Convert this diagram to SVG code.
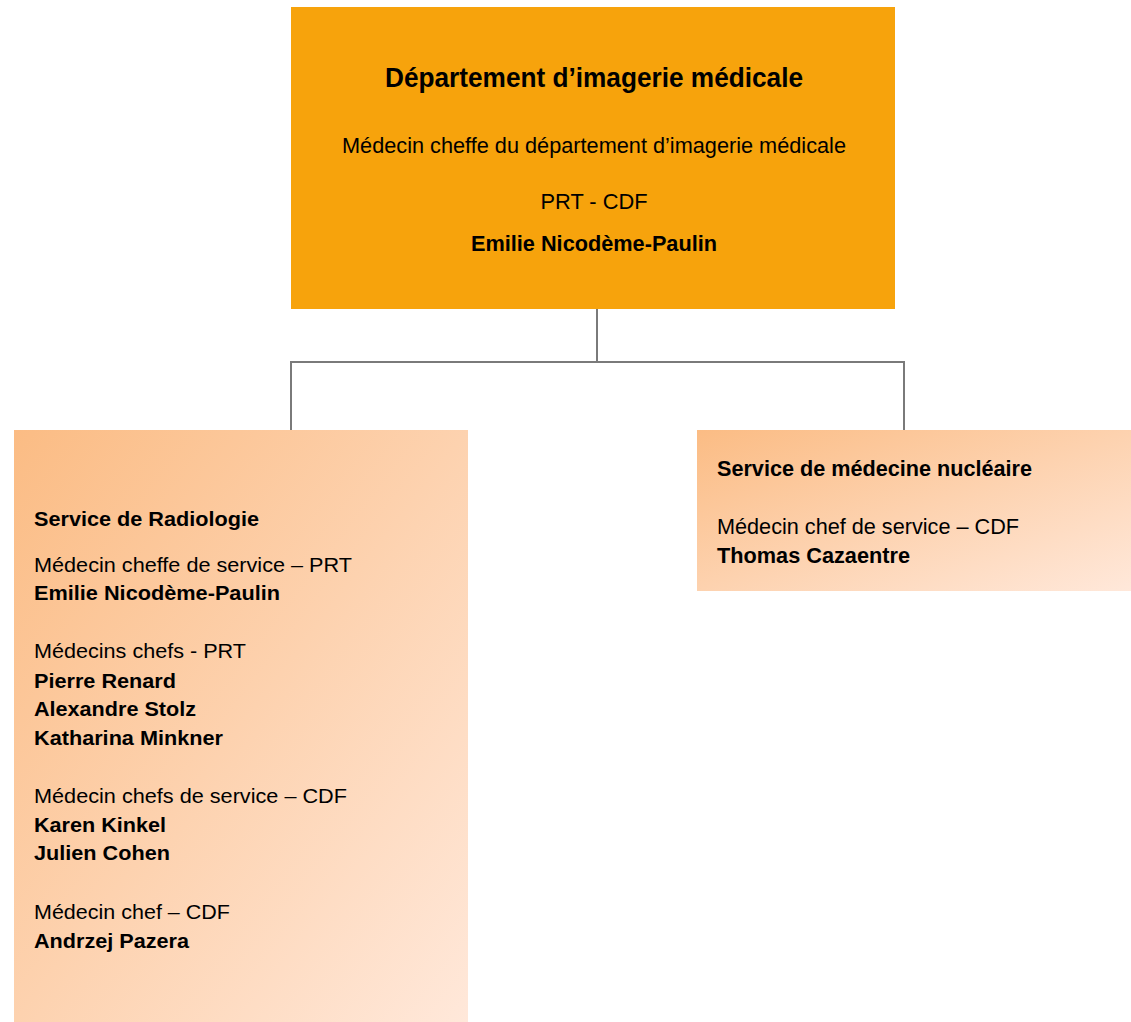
<svg xmlns="http://www.w3.org/2000/svg" width="1131" height="1022" viewBox="0 0 1131 1022">
<defs>
<linearGradient id="peach" x1="0" y1="0" x2="1" y2="1">
<stop offset="0" stop-color="#FBBC84"/>
<stop offset="1" stop-color="#FFE8DA"/>
</linearGradient>
<style>
text{font-family:"Liberation Sans",Arial,sans-serif;fill:#000}
.b{font-weight:bold}
.conn{stroke:#7a7a7a;stroke-width:2;fill:none}
</style>
</defs>
<rect width="1131" height="1022" fill="#fff"/>
<g id="connectors">
<path class="conn" d="M597 309V362M291 430V362H904V430"/>
</g>
<g id="dept">
<rect x="291" y="7" width="604" height="302" fill="#F7A30C"/>
<text class="b" x="594" y="87" font-size="27" text-anchor="middle" textLength="418" lengthAdjust="spacingAndGlyphs">Département d’imagerie médicale</text>
<text x="594" y="153" font-size="22" text-anchor="middle" textLength="504" lengthAdjust="spacingAndGlyphs">Médecin cheffe du département d’imagerie médicale</text>
<text x="594" y="209" font-size="22" text-anchor="middle" textLength="107" lengthAdjust="spacingAndGlyphs">PRT - CDF</text>
<text class="b" x="594" y="251" font-size="22" text-anchor="middle" textLength="246" lengthAdjust="spacingAndGlyphs">Emilie Nicodème-Paulin</text>
</g>
<g id="radiologie">
<rect x="14" y="430" width="454" height="592" fill="url(#peach)"/>
<text class="b" x="34" y="526" font-size="20" textLength="225" lengthAdjust="spacingAndGlyphs">Service de Radiologie</text>
<text x="34" y="572" font-size="21" textLength="318" lengthAdjust="spacingAndGlyphs">Médecin cheffe de service – PRT</text>
<text class="b" x="34" y="600" font-size="21" textLength="246" lengthAdjust="spacingAndGlyphs">Emilie Nicodème-Paulin</text>
<text x="34" y="658" font-size="21" textLength="212" lengthAdjust="spacingAndGlyphs">Médecins chefs - PRT</text>
<text class="b" x="34" y="688" font-size="21" textLength="142" lengthAdjust="spacingAndGlyphs">Pierre Renard</text>
<text class="b" x="34" y="716" font-size="21" textLength="162" lengthAdjust="spacingAndGlyphs">Alexandre Stolz</text>
<text class="b" x="34" y="745" font-size="21" textLength="189" lengthAdjust="spacingAndGlyphs">Katharina Minkner</text>
<text x="34" y="803" font-size="21" textLength="313" lengthAdjust="spacingAndGlyphs">Médecin chefs de service – CDF</text>
<text class="b" x="34" y="832" font-size="21" textLength="132" lengthAdjust="spacingAndGlyphs">Karen Kinkel</text>
<text class="b" x="34" y="860" font-size="21" textLength="136" lengthAdjust="spacingAndGlyphs">Julien Cohen</text>
<text x="34" y="919" font-size="21" textLength="196" lengthAdjust="spacingAndGlyphs">Médecin chef – CDF</text>
<text class="b" x="34" y="948" font-size="21" textLength="155" lengthAdjust="spacingAndGlyphs">Andrzej Pazera</text>
</g>
<g id="nucleaire">
<rect x="697" y="430" width="434" height="161" fill="url(#peach)"/>
<text class="b" x="717" y="476" font-size="22" textLength="315" lengthAdjust="spacingAndGlyphs">Service de médecine nucléaire</text>
<text x="717" y="534" font-size="22" textLength="302" lengthAdjust="spacingAndGlyphs">Médecin chef de service – CDF</text>
<text class="b" x="717" y="563" font-size="22" textLength="193" lengthAdjust="spacingAndGlyphs">Thomas Cazaentre</text>
</g>
</svg>
